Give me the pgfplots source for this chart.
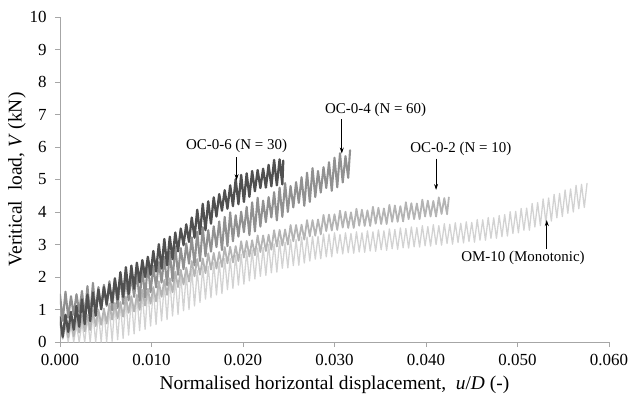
\documentclass[border=0pt]{standalone}
\usepackage{fontspec}
\setmainfont{Liberation Serif}
\usepackage{pgfplots}
\pgfplotsset{compat=1.18}
\usetikzlibrary{arrows.meta}
\definecolor{cA}{RGB}{80,80,80}
\definecolor{cB}{RGB}{145,145,145}
\definecolor{cC}{RGB}{180,180,180}
\definecolor{cD}{RGB}{210,210,210}
\definecolor{axgray}{RGB}{166,166,166}
\begin{document}
\begin{tikzpicture}
\begin{axis}[
  scale only axis, width=549bp, height=325bp,
  xmin=0, xmax=0.06, ymin=0, ymax=10,
  axis x line*=bottom, axis y line*=left,
  axis line style={draw=axgray, line width=0.8pt, -},
  xtick={0,0.01,0.02,0.03,0.04,0.05,0.06},
  ytick={0,1,2,3,4,5,6,7,8,9,10},
  tick align=outside, major tick length=5bp,
  tick style={draw=axgray, line width=0.8pt},
  scaled x ticks=false,
  x tick label style={/pgf/number format/.cd, fixed, fixed zerofill, precision=3, /tikz/.cd, yshift=-4bp},
  y tick label style={xshift=-5bp},
  /pgf/number format/assume math mode=true,
  tick label style={font=\fontsize{17}{20}\selectfont, black},
  label style={font=\fontsize{19.5}{22}\selectfont},
  xlabel style={yshift=-3bp},
  ylabel style={yshift=-3bp},
  xlabel={Normalised horizontal displacement,\ \ \textit{u}/\textit{D} (-)},
  ylabel={Veritical\ \ load, \textit{V} (kN)},
  every axis plot/.append style={mark=none, line join=round, line cap=round},
]
% OM-10 (Monotonic)
\addplot[cD, line width=1.3pt] table {
0.0006 0.45
0.0009 0.00
0.0012 0.53
0.0015 0.00
0.0018 0.53
0.0021 0.00
0.0024 0.60
0.0027 0.00
0.0030 0.75
0.0033 0.00
0.0036 0.86
0.0039 0.00
0.0042 0.89
0.0045 0.00
0.0048 1.00
0.0051 0.00
0.0054 1.03
0.0057 0.02
0.0060 1.19
0.0063 0.07
0.0066 1.22
0.0069 0.11
0.0072 1.33
0.0075 0.21
0.0078 1.36
0.0081 0.25
0.0084 1.47
0.0087 0.35
0.0090 1.50
0.0093 0.39
0.0096 1.62
0.0099 0.49
0.0102 1.65
0.0105 0.54
0.0108 1.77
0.0111 0.65
0.0114 1.80
0.0117 0.69
0.0120 1.92
0.0123 0.80
0.0126 1.96
0.0129 0.85
0.0132 2.08
0.0135 0.96
0.0138 2.11
0.0141 1.00
0.0144 2.23
0.0147 1.11
0.0150 2.20
0.0153 1.22
0.0156 2.31
0.0159 1.32
0.0162 2.33
0.0165 1.36
0.0168 2.44
0.0171 1.45
0.0174 2.46
0.0177 1.49
0.0180 2.57
0.0183 1.61
0.0186 2.57
0.0189 1.65
0.0192 2.67
0.0195 1.75
0.0198 2.70
0.0201 1.78
0.0204 2.80
0.0207 1.88
0.0210 2.83
0.0213 1.94
0.0216 2.89
0.0219 2.02
0.0222 2.91
0.0225 2.05
0.0228 3.00
0.0231 2.13
0.0234 3.02
0.0237 2.15
0.0240 3.11
0.0243 2.27
0.0246 3.07
0.0249 2.28
0.0252 3.15
0.0255 2.35
0.0258 3.15
0.0261 2.36
0.0264 3.23
0.0267 2.43
0.0270 3.23
0.0273 2.49
0.0276 3.25
0.0279 2.55
0.0282 3.25
0.0285 2.56
0.0288 3.32
0.0291 2.62
0.0294 3.32
0.0297 2.62
0.0300 3.36
0.0303 2.73
0.0306 3.31
0.0309 2.71
0.0312 3.36
0.0315 2.75
0.0318 3.34
0.0321 2.73
0.0324 3.39
0.0327 2.77
0.0330 3.36
0.0333 2.76
0.0336 3.42
0.0339 2.80
0.0342 3.39
0.0345 2.79
0.0348 3.45
0.0351 2.84
0.0354 3.42
0.0357 2.82
0.0360 3.48
0.0363 2.87
0.0366 3.46
0.0369 2.85
0.0372 3.51
0.0375 2.90
0.0378 3.49
0.0381 2.89
0.0384 3.54
0.0387 2.93
0.0390 3.52
0.0393 2.92
0.0396 3.58
0.0399 2.96
0.0402 3.55
0.0405 2.95
0.0408 3.61
0.0411 3.00
0.0414 3.58
0.0417 2.98
0.0420 3.64
0.0423 3.03
0.0426 3.62
0.0429 3.01
0.0432 3.67
0.0435 3.06
0.0438 3.65
0.0441 3.05
0.0444 3.70
0.0447 3.09
0.0450 3.68
0.0453 3.07
0.0456 3.77
0.0459 3.13
0.0462 3.76
0.0465 3.13
0.0468 3.83
0.0471 3.19
0.0474 3.82
0.0477 3.19
0.0480 3.89
0.0483 3.24
0.0486 3.92
0.0489 3.26
0.0492 4.01
0.0495 3.34
0.0498 4.02
0.0501 3.36
0.0504 4.11
0.0507 3.44
0.0510 4.12
0.0513 3.44
0.0516 4.26
0.0519 3.54
0.0522 4.29
0.0525 3.58
0.0528 4.40
0.0531 3.68
0.0534 4.43
0.0537 3.72
0.0540 4.54
0.0543 3.82
0.0546 4.57
0.0549 3.86
0.0552 4.68
0.0555 3.96
0.0558 4.71
0.0561 4.00
0.0564 4.82
0.0567 4.10
0.0570 4.85
0.0573 4.14
0.0576 4.88
};
% OC-0-2 (N = 10)
\addplot[cC, line width=1.8pt] table {
0 0.60
0.0003 0.10
0.0006 0.61
0.0009 0.14
0.0012 0.64
0.0015 0.18
0.0018 0.79
0.0021 0.29
0.0024 0.81
0.0027 0.33
0.0030 0.83
0.0033 0.37
0.0036 0.99
0.0039 0.49
0.0042 1.00
0.0045 0.53
0.0048 1.03
0.0051 0.57
0.0054 1.18
0.0057 0.69
0.0060 1.20
0.0063 0.73
0.0066 1.23
0.0069 0.78
0.0072 1.39
0.0075 0.90
0.0078 1.41
0.0081 0.94
0.0084 1.44
0.0087 0.99
0.0090 1.60
0.0093 1.12
0.0096 1.64
0.0099 1.18
0.0102 1.69
0.0105 1.25
0.0108 1.87
0.0111 1.39
0.0114 1.91
0.0117 1.45
0.0120 1.96
0.0123 1.53
0.0126 2.16
0.0129 1.69
0.0132 2.22
0.0135 1.77
0.0138 2.29
0.0141 1.86
0.0144 2.49
0.0147 2.02
0.0150 2.55
0.0153 2.07
0.0156 2.57
0.0159 2.12
0.0162 2.73
0.0165 2.23
0.0168 2.74
0.0171 2.26
0.0174 2.77
0.0177 2.31
0.0180 2.92
0.0183 2.42
0.0186 2.93
0.0189 2.45
0.0192 2.95
0.0195 2.49
0.0198 3.10
0.0201 2.60
0.0204 3.11
0.0207 2.63
0.0210 3.13
0.0213 2.67
0.0216 3.28
0.0219 2.77
0.0222 3.28
0.0225 2.80
0.0228 3.30
0.0231 2.84
0.0234 3.44
0.0237 2.94
0.0240 3.45
0.0243 2.97
0.0246 3.46
0.0249 3.00
0.0252 3.60
0.0255 3.10
0.0258 3.60
0.0261 3.12
0.0264 3.61
0.0267 3.15
0.0270 3.75
0.0273 3.25
0.0276 3.75
0.0279 3.27
0.0282 3.77
0.0285 3.31
0.0288 3.91
0.0291 3.41
0.0294 3.92
0.0297 3.43
0.0300 3.93
0.0303 3.45
0.0306 4.04
0.0309 3.52
0.0312 4.01
0.0315 3.51
0.0318 3.99
0.0321 3.51
0.0324 4.10
0.0327 3.58
0.0330 4.07
0.0333 3.57
0.0336 4.05
0.0339 3.57
0.0342 4.16
0.0345 3.64
0.0348 4.13
0.0351 3.63
0.0354 4.11
0.0357 3.63
0.0360 4.22
0.0363 3.70
0.0366 4.20
0.0369 3.70
0.0372 4.18
0.0375 3.71
0.0378 4.30
0.0381 3.78
0.0384 4.27
0.0387 3.78
0.0390 4.26
0.0393 3.78
0.0396 4.38
0.0399 3.86
0.0402 4.35
0.0405 3.86
0.0408 4.34
0.0411 3.86
0.0414 4.45
0.0417 3.94
0.0420 4.43
0.0423 3.93
0.0425 4.45
};
% OC-0-4 (N = 60)
\addplot[cB, line width=2.1pt] table {
0 1.46
0.0003 0.65
0.0006 1.55
0.0009 0.75
0.0012 1.41
0.0015 0.84
0.0018 1.47
0.0021 0.93
0.0024 1.57
0.0027 0.79
0.0030 1.72
0.0033 0.80
0.0036 1.82
0.0039 0.91
0.0042 1.69
0.0045 1.01
0.0048 1.76
0.0051 1.11
0.0054 1.87
0.0057 0.98
0.0060 1.97
0.0063 1.05
0.0066 2.08
0.0069 1.17
0.0072 1.96
0.0075 1.28
0.0078 2.04
0.0081 1.39
0.0084 2.16
0.0087 1.27
0.0090 2.27
0.0093 1.37
0.0096 2.42
0.0099 1.53
0.0102 2.34
0.0105 1.68
0.0108 2.46
0.0111 1.83
0.0114 2.62
0.0117 1.75
0.0120 2.77
0.0123 1.88
0.0126 2.94
0.0129 2.07
0.0132 2.89
0.0135 2.24
0.0138 3.03
0.0141 2.41
0.0144 3.22
0.0147 2.36
0.0150 3.39
0.0153 2.49
0.0156 3.53
0.0159 2.64
0.0162 3.44
0.0165 2.78
0.0168 3.56
0.0171 2.92
0.0174 3.71
0.0177 2.83
0.0180 3.85
0.0183 2.95
0.0186 3.99
0.0189 3.10
0.0192 3.90
0.0195 3.24
0.0198 4.01
0.0201 3.38
0.0204 4.16
0.0207 3.29
0.0210 4.30
0.0213 3.40
0.0216 4.44
0.0219 3.55
0.0222 4.35
0.0225 3.69
0.0228 4.46
0.0231 3.83
0.0234 4.61
0.0237 3.74
0.0240 4.75
0.0243 3.85
0.0246 4.89
0.0249 4.00
0.0252 4.80
0.0255 4.14
0.0258 4.92
0.0261 4.28
0.0264 5.07
0.0267 4.19
0.0270 5.21
0.0273 4.31
0.0276 5.35
0.0279 4.46
0.0282 5.26
0.0285 4.60
0.0288 5.38
0.0291 4.74
0.0294 5.53
0.0297 4.65
0.0300 5.67
0.0303 4.76
0.0306 5.81
0.0309 4.91
0.0312 5.72
0.0315 5.05
0.0317 5.90
};
% OC-0-6 (N = 30)
\addplot[cA, line width=2.3pt] table {
0 0.76
0.0003 0.16
0.0006 0.84
0.0009 0.31
0.0012 0.93
0.0015 0.38
0.0018 1.11
0.0021 0.47
0.0024 1.31
0.0027 0.55
0.0030 1.46
0.0033 0.64
0.0036 1.52
0.0039 0.81
0.0042 1.61
0.0045 1.01
0.0048 1.69
0.0051 1.16
0.0054 1.78
0.0057 1.22
0.0060 1.95
0.0063 1.31
0.0066 2.15
0.0069 1.39
0.0072 2.30
0.0075 1.48
0.0078 2.35
0.0081 1.64
0.0084 2.44
0.0087 1.84
0.0090 2.52
0.0093 2.00
0.0096 2.62
0.0099 2.07
0.0102 2.80
0.0105 2.17
0.0108 3.01
0.0111 2.26
0.0114 3.17
0.0117 2.36
0.0120 3.24
0.0123 2.55
0.0126 3.37
0.0129 2.79
0.0132 3.49
0.0135 2.98
0.0138 3.62
0.0141 3.08
0.0144 3.83
0.0147 3.21
0.0150 4.07
0.0153 3.32
0.0156 4.25
0.0159 3.44
0.0162 4.33
0.0165 3.64
0.0168 4.45
0.0171 3.86
0.0174 4.55
0.0177 4.04
0.0180 4.67
0.0183 4.10
0.0186 4.82
0.0189 4.18
0.0192 5.01
0.0195 4.24
0.0198 5.14
0.0201 4.31
0.0204 5.19
0.0207 4.47
0.0210 5.26
0.0213 4.64
0.0216 5.29
0.0219 4.74
0.0222 5.33
0.0225 4.75
0.0228 5.45
0.0231 4.79
0.0234 5.60
0.0237 4.82
0.0240 5.62
0.0243 4.85
0.0244 5.58
};
% annotations
\node[font=\fontsize{15}{18}\selectfont] at (axis cs:0.0193,6.03) {OC-0-6 (N = 30)};
\draw[-{Stealth[length=6bp,width=4bp]}, line width=0.7pt] (axis cs:0.0193,5.68) -- (axis cs:0.0193,4.98);
\node[font=\fontsize{15}{18}\selectfont] at (axis cs:0.0345,7.14) {OC-0-4 (N = 60)};
\draw[-{Stealth[length=6bp,width=4bp]}, line width=0.7pt] (axis cs:0.0308,6.86) -- (axis cs:0.0308,5.80);
\node[font=\fontsize{15}{18}\selectfont] at (axis cs:0.0438,5.94) {OC-0-2 (N = 10)};
\draw[-{Stealth[length=6bp,width=4bp]}, line width=0.7pt] (axis cs:0.0411,5.64) -- (axis cs:0.0411,4.68);
\node[font=\fontsize{15}{18}\selectfont] at (axis cs:0.0506,2.58) {OM-10 (Monotonic)};
\draw[-{Stealth[length=6bp,width=4bp]}, line width=0.7pt] (axis cs:0.0532,2.86) -- (axis cs:0.0532,3.75);
\end{axis}
\pgfresetboundingbox
\path (current axis.south west) ++(-60bp,-54bp) rectangle ++(631bp,396bp);
\end{tikzpicture}
\end{document}
